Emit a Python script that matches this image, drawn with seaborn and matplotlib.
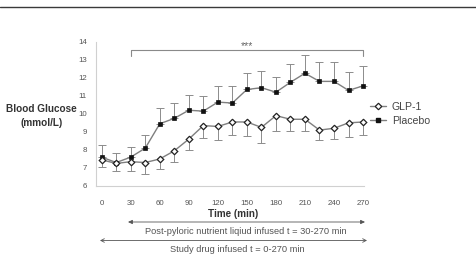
import numpy as np
import pandas as pd
import matplotlib
matplotlib.use("Agg")
import matplotlib.pyplot as plt
import seaborn as sns
from matplotlib.lines import Line2D

time = [0, 15, 30, 45, 60, 75, 90, 105, 120, 135, 150, 165, 180, 195, 210, 225, 240, 255, 270]
placebo = [7.6, 7.3, 7.6, 8.1, 9.45, 9.75, 10.2, 10.15, 10.65, 10.6, 11.35, 11.45, 11.2, 11.75, 12.25, 11.8, 11.8, 11.3, 11.55]
placebo_upper = [8.25, 7.85, 8.15, 8.8, 10.3, 10.6, 11.05, 11.0, 11.55, 11.55, 12.25, 12.4, 12.05, 12.75, 13.25, 12.85, 12.85, 12.3, 12.65]
glp1 = [7.45, 7.25, 7.35, 7.3, 7.5, 7.95, 8.6, 9.35, 9.3, 9.55, 9.55, 9.25, 9.9, 9.7, 9.7, 9.1, 9.2, 9.5, 9.55]
glp1_lower = [7.05, 6.85, 6.85, 6.65, 6.95, 7.35, 8.0, 8.65, 8.55, 8.8, 8.75, 8.4, 9.05, 9.05, 9.05, 8.55, 8.6, 8.7, 8.8]
x_ticks = [0, 30, 60, 90, 120, 150, 180, 210, 240, 270]
y_ticks = [6, 7, 8, 9, 10, 11, 12, 13, 14]
series_names = ["GLP-1", "Placebo"]

sns.set_style("white")
plt.rcParams["font.family"] = ["Liberation Sans", "DejaVu Sans"]

W, H = 476, 262
fig = plt.figure(figsize=(W / 100, H / 100), dpi=100)

def fx(px):
    return px / W

def fy(py):
    return 1 - py / H

ax_left, ax_right = 95.9, 364.0
ax_top, ax_bottom = 41.7, 186.0
ax = fig.add_axes([fx(ax_left), fy(ax_bottom), (ax_right - ax_left) / W, (ax_bottom - ax_top) / H])

df_g = pd.DataFrame({"time": time, "value": glp1})
df_p = pd.DataFrame({"time": time, "value": placebo})

line_col = "#7f7f7f"
err_col = "#8c8c8c"

# error bars
ax.errorbar(time, placebo, yerr=[np.zeros(len(time)), np.array(placebo_upper) - np.array(placebo)],
            fmt="none", ecolor=err_col, elinewidth=0.7, capsize=2.6, capthick=0.7, zorder=2, clip_on=False)
ax.errorbar(time, glp1, yerr=[np.array(glp1) - np.array(glp1_lower), np.zeros(len(time))],
            fmt="none", ecolor=err_col, elinewidth=0.7, capsize=2.6, capthick=0.7, zorder=2, clip_on=False)

sns.lineplot(data=df_p, x="time", y="value", ax=ax, color=line_col, linewidth=1.0,
             marker="s", markersize=3.3, markerfacecolor="#111111", markeredgecolor="#111111",
             markeredgewidth=0.5, zorder=3, clip_on=False)
sns.lineplot(data=df_g, x="time", y="value", ax=ax, color=line_col, linewidth=1.0,
             marker="D", markersize=3.3, markerfacecolor="white", markeredgecolor="#222222",
             markeredgewidth=0.9, zorder=3, clip_on=False)

ax.set_xlim(-6, 271)
ax.set_ylim(6, 14)
ax.set_xticks(x_ticks)
ax.set_yticks(y_ticks)
ax.set_xticklabels([str(t) for t in x_ticks])
ax.set_yticklabels([str(t) for t in y_ticks])
ax.set_xlabel("")
ax.set_ylabel("")
ax.tick_params(axis="x", direction="in", length=2, color="#cfcfcf", labelsize=5.7, labelcolor="#555555", pad=10)
ax.tick_params(axis="y", direction="out", length=2.5, color="#cfcfcf", labelsize=5.7, labelcolor="#555555", pad=4)
for s in ["top", "right"]:
    ax.spines[s].set_visible(False)
for s in ["left", "bottom"]:
    ax.spines[s].set_color("#d0d0d0")
    ax.spines[s].set_linewidth(0.8)

# significance bracket
br_col = "#8a8a8a"
ax.plot([30, 30, 270, 270], [13.22, 13.56, 13.56, 13.22], color=br_col, lw=0.8, clip_on=False)
ax.text(150, 13.78, "***", ha="center", va="center", fontsize=7.5, color="#666666")

# legend
handles = [
    Line2D([], [], color=line_col, lw=1.0, marker="D", markersize=3.3, markerfacecolor="white",
           markeredgecolor="#222222", markeredgewidth=0.9),
    Line2D([], [], color=line_col, lw=1.0, marker="s", markersize=3.3, markerfacecolor="#111111",
           markeredgecolor="#111111"),
]
fig.legend(handles, series_names, loc="upper left", bbox_to_anchor=(fx(370), fy(101.5)),
           frameon=False, fontsize=7.6, handlelength=1.55, handletextpad=0.5,
           labelspacing=0.42, borderaxespad=0, borderpad=0, labelcolor="#444444")

# axis labels
fig.text(fx(41.5), fy(116), "Blood Glucose\n(mmol/L)", ha="center", va="center",
         fontsize=7.2, fontweight="bold", color="#333333", linespacing=1.4)
fig.text(fx(233), fy(214), "Time (min)", ha="center", va="center",
         fontsize=7.1, fontweight="bold", color="#333333")

# arrows
arr_col = "#555555"
fig.add_artist(matplotlib.patches.FancyArrowPatch((fx(128), fy(222)), (fx(365), fy(222)),
               transform=fig.transFigure, arrowstyle="<|-|>,head_length=2.5,head_width=1.2",
               color=arr_col, lw=0.6, shrinkA=0, shrinkB=0))
fig.text(fx(245.5), fy(231.5), "Post-pyloric nutrient liqiud infused t = 30-270 min",
         ha="center", va="center", fontsize=6.7, color="#555555")
fig.add_artist(matplotlib.patches.FancyArrowPatch((fx(100), fy(240.5)), (fx(367), fy(240.5)),
               transform=fig.transFigure, arrowstyle="<->,head_length=2.5,head_width=1.3",
               color=arr_col, lw=0.6, shrinkA=0, shrinkB=0))
fig.text(fx(237.5), fy(249.5), "Study drug infused t = 0-270 min",
         ha="center", va="center", fontsize=6.7, color="#555555")

# top rule
fig.add_artist(Line2D([0, 1], [fy(7.3), fy(7.3)], transform=fig.transFigure, color="#3a3a3a", lw=1.0))

fig.savefig("out.png", dpi=100, facecolor="white")
